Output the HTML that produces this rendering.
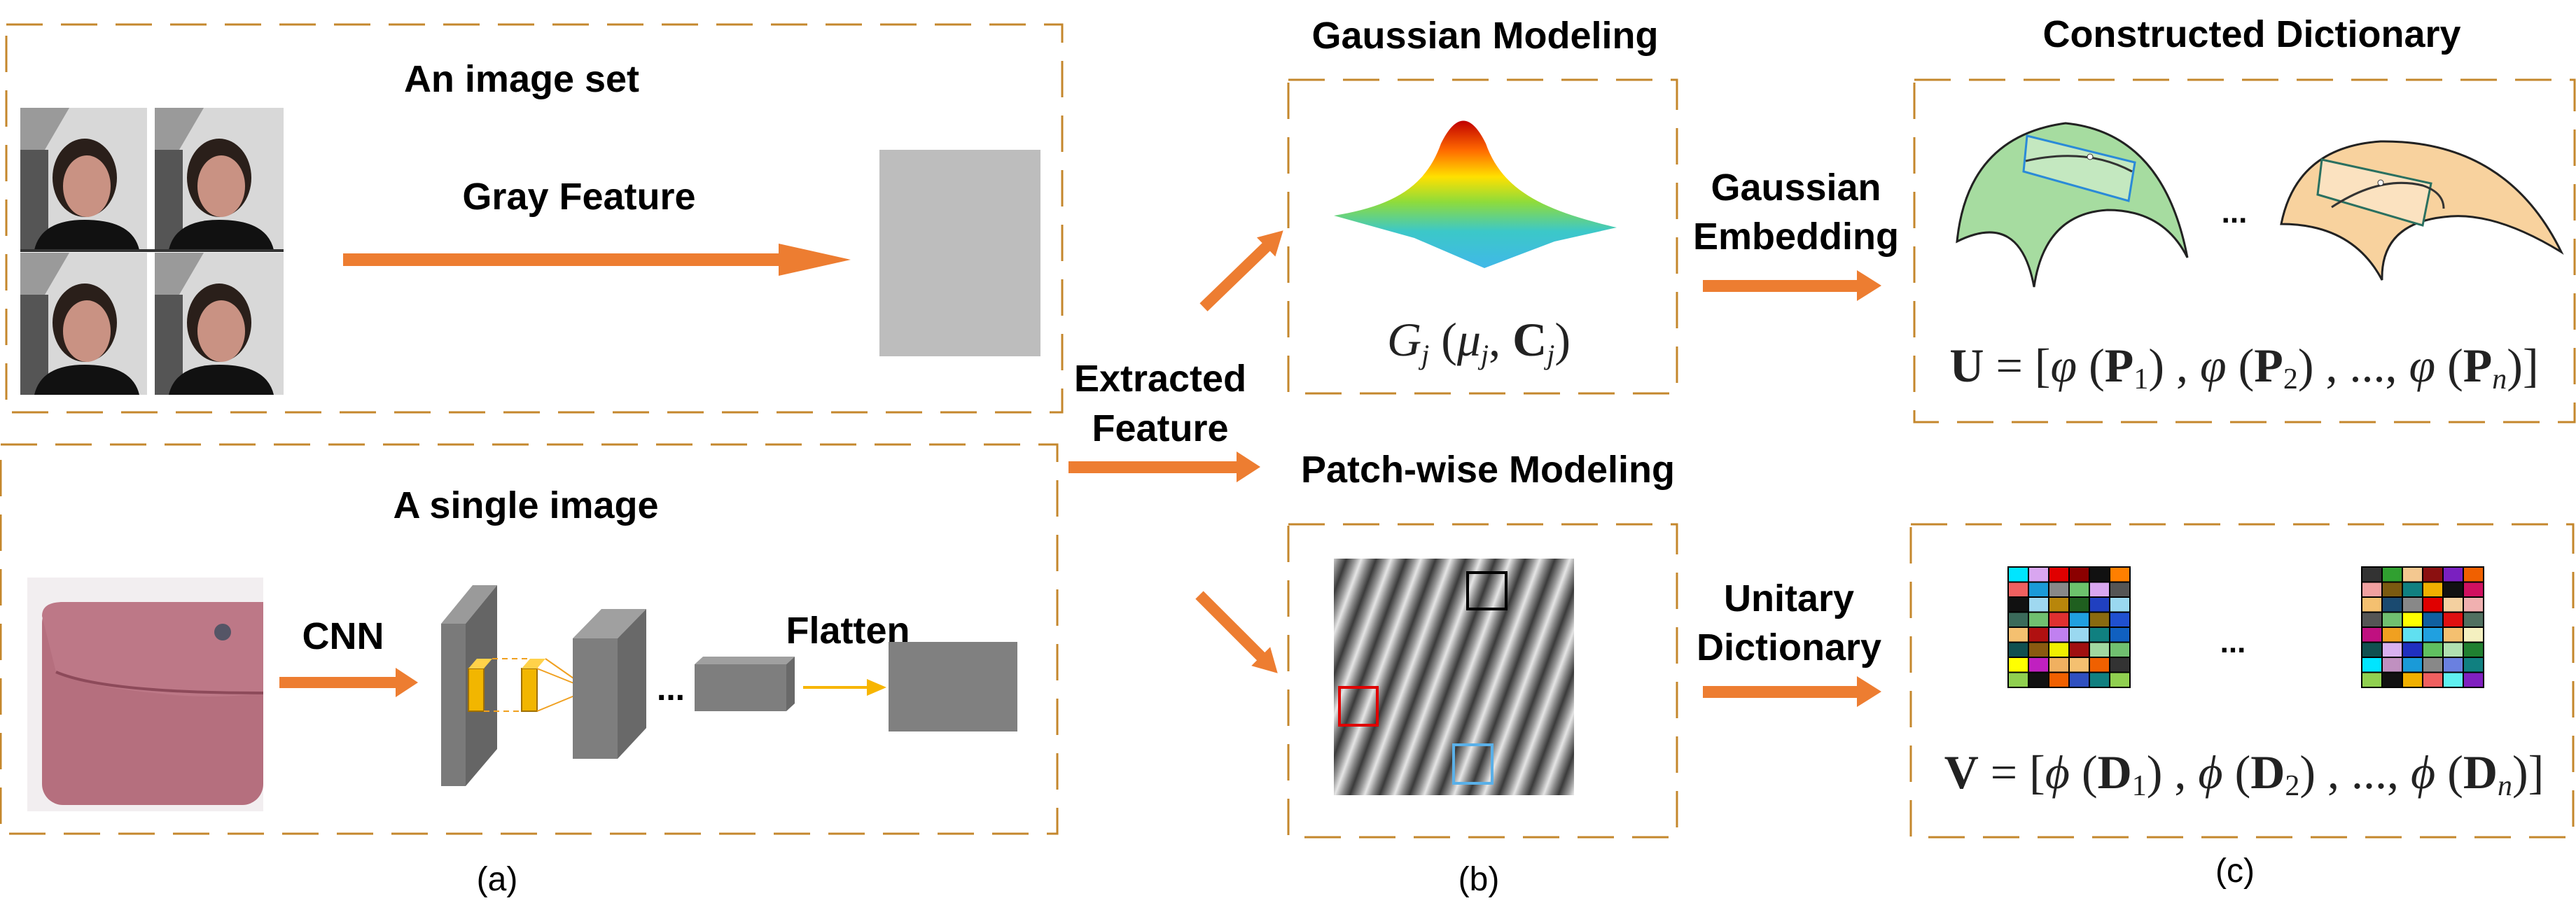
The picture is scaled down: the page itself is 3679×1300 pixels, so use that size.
<!DOCTYPE html>
<html><head><meta charset="utf-8"><style>
html,body{margin:0;padding:0;background:#fff;}
svg{display:block;}
.t{font-family:"Liberation Sans",sans-serif;font-weight:bold;font-size:54px;fill:#000;text-anchor:middle;}
.f{font-family:"Liberation Serif",serif;font-size:68px;fill:#222;text-anchor:middle;}
.c{font-family:"Liberation Sans","Noto Sans CJK SC",sans-serif;font-size:48px;fill:#000;text-anchor:middle;}
.box{fill:none;stroke:#c4872c;stroke-width:3;stroke-dasharray:52 26;}
</style></head><body>
<svg width="3679" height="1300" viewBox="0 0 3679 1300" xmlns="http://www.w3.org/2000/svg">
<defs>
<linearGradient id="gg" x1="0" y1="0" x2="0" y2="1">
<stop offset="0" stop-color="#c00000"/><stop offset="0.2" stop-color="#ff6a00"/><stop offset="0.38" stop-color="#ffe000"/><stop offset="0.55" stop-color="#8fdc3a"/><stop offset="0.75" stop-color="#3cc8c8"/><stop offset="1" stop-color="#40b8e8"/>
</linearGradient>
<linearGradient id="sg" x1="0" y1="0" x2="1" y2="0">
<stop offset="0" stop-color="#3a3a3a"/><stop offset="0.3" stop-color="#9a9a9a"/><stop offset="0.5" stop-color="#e6e6e6"/><stop offset="0.75" stop-color="#8a8a8a"/><stop offset="1" stop-color="#3a3a3a"/>
</linearGradient>
<pattern id="stripes" width="40" height="60" patternUnits="userSpaceOnUse" patternTransform="rotate(20)">
<rect width="40" height="60" fill="url(#sg)"/>
</pattern>
<g id="face">
<rect width="184" height="203" fill="#d8d8d8"/>
<polygon points="0,0 70,0 0,120" fill="#9a9a9a"/>
<rect x="0" y="60" width="40" height="143" fill="#555"/>
<ellipse cx="92" cy="100" rx="46" ry="56" fill="#2a1f1a"/>
<ellipse cx="95" cy="112" rx="34" ry="44" fill="#c99283"/>
<path d="M20,203 Q30,160 92,160 Q160,160 170,203 Z" fill="#111"/>
</g>
</defs>

<rect class="box" x="9" y="35" width="1508" height="554"/>
<rect class="box" x="1" y="635" width="1509" height="556"/>
<rect class="box" x="1840" y="114" width="555" height="448"/>
<rect class="box" x="2734" y="114" width="943" height="489"/>
<rect class="box" x="1840" y="749" width="555" height="447"/>
<rect class="box" x="2729" y="749" width="946" height="447"/>

<text class="t" x="745" y="131">An image set</text>
<text class="t" x="827" y="299">Gray Feature</text>
<text class="t" x="751" y="740">A single image</text>
<text class="t" x="490" y="927">CNN</text>
<text class="t" x="1211" y="919">Flatten</text>
<text class="t" x="1657" y="559">Extracted</text>
<text class="t" x="1657" y="630">Feature</text>
<text class="t" x="2121" y="69">Gaussian Modeling</text>
<text class="t" x="3216" y="67">Constructed Dictionary</text>
<text class="t" x="2565" y="286">Gaussian</text>
<text class="t" x="2565" y="356">Embedding</text>
<text class="t" x="2125" y="689">Patch-wise Modeling</text>
<text class="t" x="2555" y="873">Unitary</text>
<text class="t" x="2555" y="943">Dictionary</text>
<text class="c" x="710" y="1272">(a)</text>
<text class="c" x="2112" y="1272">(b)</text>
<text class="c" x="3192" y="1260">(c)</text>

<use href="#face" x="29" y="154"/>
<use href="#face" x="221" y="154"/>
<use href="#face" x="29" y="361"/>
<use href="#face" x="221" y="361"/>
<line x1="213" y1="154" x2="213" y2="565" stroke="#fff" stroke-width="6"/>
<line x1="29" y1="358" x2="405" y2="358" stroke="#333" stroke-width="4"/>

<rect x="490" y="362" width="630" height="18" fill="#ed7d31"/>
<polygon points="1112,348 1215,371 1112,394" fill="#ed7d31"/>
<rect x="1256" y="214" width="230" height="295" fill="#bdbdbd"/>

<rect x="39" y="825" width="337" height="334" fill="#f2eef0"/>
<rect x="60" y="860" width="316" height="290" rx="30" fill="#b56f7e"/>
<path d="M60,880 Q60,860 90,860 L376,860 L376,990 Q300,1000 220,990 Q120,980 80,960 Z" fill="#bd7887"/>
<path d="M80,960 Q150,990 376,990" stroke="#8d4a5a" stroke-width="4" fill="none"/>
<circle cx="318" cy="903" r="12" fill="#556"/>

<rect x="399" y="967" width="170" height="16" fill="#ed7d31"/>
<polygon points="565,954 597,975 565,996" fill="#ed7d31"/>

<polygon points="630,891 665,891 665,1123 630,1123" fill="#7a7a7a"/>
<polygon points="630,891 675,836 710,836 665,891" fill="#9a9a9a"/>
<polygon points="665,891 710,836 710,1070 665,1123" fill="#656565"/>
<rect x="669" y="955" width="22" height="61" fill="#f2b600" stroke="#a07000" stroke-width="2"/>
<polygon points="669,955 681,941 703,941 691,955" fill="#ffd24a"/>
<rect x="745" y="955" width="22" height="61" fill="#f2b600" stroke="#a07000" stroke-width="2"/>
<polygon points="745,955 757,941 779,941 767,955" fill="#ffd24a"/>
<g stroke="#f0a020" stroke-width="2" fill="none">
<line x1="703" y1="941" x2="757" y2="941" stroke-dasharray="8 6"/>
<line x1="691" y1="1016" x2="745" y2="1016" stroke-dasharray="8 6"/>
<line x1="767" y1="955" x2="842" y2="985"/><line x1="779" y1="941" x2="842" y2="985"/><line x1="767" y1="1016" x2="842" y2="985"/>
</g>
<polygon points="818,912 882,912 882,1084 818,1084" fill="#7e7e7e"/>
<polygon points="818,912 859,870 923,870 882,912" fill="#a0a0a0"/>
<polygon points="882,912 923,870 923,1040 882,1084" fill="#696969"/>
<text class="t" x="958" y="1000" style="font-size:48px">...</text>
<rect x="992" y="949" width="131" height="67" fill="#7e7e7e"/>
<polygon points="992,949 1004,938 1135,938 1123,949" fill="#a0a0a0"/>
<polygon points="1123,949 1135,938 1135,1005 1123,1016" fill="#696969"/>
<rect x="1147" y="980" width="95" height="4" fill="#f7b500"/>
<polygon points="1238,970 1266,982 1238,994" fill="#f7b500"/>
<rect x="1269" y="917" width="184" height="128" fill="#808080"/>

<rect x="1526" y="659" width="250" height="17" fill="#ed7d31"/>
<polygon points="1766,645 1800,667 1766,689" fill="#ed7d31"/>
<g transform="translate(1719,439) rotate(-44)">
<rect x="0" y="-8" width="128" height="16" fill="#ed7d31"/><polygon points="124,-19 158,0 124,19" fill="#ed7d31"/>
</g>
<g transform="translate(1713,850) rotate(45)">
<rect x="0" y="-8" width="128" height="16" fill="#ed7d31"/><polygon points="124,-19 158,0 124,19" fill="#ed7d31"/>
</g>

<path d="M1905,308 C1985,295 2035,270 2058,205 Q2090,140 2122,205 C2145,270 2200,300 2309,325 L2220,345 L2120,383 L2020,340 Z" fill="url(#gg)"/>
<text class="f" x="2112" y="508" style="font-style:italic">G<tspan font-size="40" dy="12">j</tspan><tspan dy="-12" font-style="normal"> (</tspan>μ<tspan font-size="40" dy="12">j</tspan><tspan dy="-12" font-style="normal">, </tspan><tspan font-weight="bold" font-style="normal">C</tspan><tspan font-size="40" dy="12">j</tspan><tspan dy="-12" font-style="normal">)</tspan></text>

<rect x="2432" y="400" width="225" height="17" fill="#ed7d31"/>
<polygon points="2652,386 2687,408 2652,430" fill="#ed7d31"/>
<rect x="2432" y="980" width="225" height="17" fill="#ed7d31"/>
<polygon points="2652,966 2687,988 2652,1010" fill="#ed7d31"/>

<path d="M2795,345 Q2810,195 2950,176 Q3090,190 3124,368 Q3090,300 3010,300 Q2920,305 2905,410 Q2885,300 2795,345 Z" fill="#a6dca0" stroke="#222" stroke-width="3"/>
<polygon points="2895,194 3049,232 3040,287 2890,245" fill="#c4e8c0" stroke="#2a8ad8" stroke-width="3"/>
<path d="M2893,230 Q2980,210 3045,245" stroke="#333" stroke-width="3" fill="none"/>
<circle cx="2985" cy="224" r="4" fill="#fff" stroke="#333"/>
<text class="t" x="3191" y="318" style="font-size:44px">...</text>
<path d="M3258,320 Q3280,210 3400,202 Q3580,200 3658,360 Q3560,300 3490,310 Q3400,320 3402,400 Q3360,320 3258,320 Z" fill="#f8d29e" stroke="#222" stroke-width="3"/>
<polygon points="3316,228 3472,262 3460,322 3310,278" fill="#fbe2c0" stroke="#2a7060" stroke-width="3"/>
<path d="M3330,296 Q3400,250 3460,265 Q3490,275 3490,298" stroke="#333" stroke-width="3" fill="none"/>
<circle cx="3400" cy="261" r="4" fill="#fff" stroke="#333"/>

<text class="f" x="3205" y="545"><tspan font-weight="bold">U</tspan> = [<tspan font-style="italic">φ</tspan> (<tspan font-weight="bold">P</tspan><tspan font-size="42" dy="10">1</tspan><tspan dy="-10">) , </tspan><tspan font-style="italic">φ</tspan> (<tspan font-weight="bold">P</tspan><tspan font-size="42" dy="10">2</tspan><tspan dy="-10">) , ..., </tspan><tspan font-style="italic">φ</tspan> (<tspan font-weight="bold">P</tspan><tspan font-size="42" dy="10" font-style="italic">n</tspan><tspan dy="-10">)]</tspan></text>
<text class="f" x="3205" y="1126"><tspan font-weight="bold">V</tspan> = [<tspan font-style="italic">ϕ</tspan> (<tspan font-weight="bold">D</tspan><tspan font-size="42" dy="10">1</tspan><tspan dy="-10">) , </tspan><tspan font-style="italic">ϕ</tspan> (<tspan font-weight="bold">D</tspan><tspan font-size="42" dy="10">2</tspan><tspan dy="-10">) , ..., </tspan><tspan font-style="italic">ϕ</tspan> (<tspan font-weight="bold">D</tspan><tspan font-size="42" dy="10" font-style="italic">n</tspan><tspan dy="-10">)]</tspan></text>

<rect x="1905" y="798" width="343" height="338" fill="url(#stripes)"/>
<rect x="2096" y="818" width="55" height="52" fill="none" stroke="#000" stroke-width="4"/>
<rect x="1913" y="982" width="54" height="54" fill="none" stroke="#e00000" stroke-width="4"/>
<rect x="2076" y="1064" width="55" height="55" fill="none" stroke="#5ab0e8" stroke-width="4"/>

<g stroke="#000" stroke-width="2">
<g transform="translate(2868,810)">
<rect x="0" y="0" width="29" height="21.5" fill="#00e5ff"/><rect x="29" y="0" width="29" height="21.5" fill="#d9a6f0"/><rect x="58" y="0" width="29" height="21.5" fill="#e00000"/><rect x="87" y="0" width="29" height="21.5" fill="#8b0000"/><rect x="116" y="0" width="29" height="21.5" fill="#111"/><rect x="145" y="0" width="29" height="21.5" fill="#ff7f00"/>
<rect x="0" y="21.5" width="29" height="21.5" fill="#f06060"/><rect x="29" y="21.5" width="29" height="21.5" fill="#1a9ad8"/><rect x="58" y="21.5" width="29" height="21.5" fill="#888"/><rect x="87" y="21.5" width="29" height="21.5" fill="#6cc26c"/><rect x="116" y="21.5" width="29" height="21.5" fill="#d9a6f0"/><rect x="145" y="21.5" width="29" height="21.5" fill="#555"/>
<rect x="0" y="43" width="29" height="21.5" fill="#111"/><rect x="29" y="43" width="29" height="21.5" fill="#9fd8f0"/><rect x="58" y="43" width="29" height="21.5" fill="#b8860b"/><rect x="87" y="43" width="29" height="21.5" fill="#1f5f1f"/><rect x="116" y="43" width="29" height="21.5" fill="#2040c0"/><rect x="145" y="43" width="29" height="21.5" fill="#9ad8f0"/>
<rect x="0" y="64.5" width="29" height="21.5" fill="#3a6a5a"/><rect x="29" y="64.5" width="29" height="21.5" fill="#70c070"/><rect x="58" y="64.5" width="29" height="21.5" fill="#e03030"/><rect x="87" y="64.5" width="29" height="21.5" fill="#20a0e0"/><rect x="116" y="64.5" width="29" height="21.5" fill="#8a6a10"/><rect x="145" y="64.5" width="29" height="21.5" fill="#2050d0"/>
<rect x="0" y="86" width="29" height="21.5" fill="#f4c070"/><rect x="29" y="86" width="29" height="21.5" fill="#b01010"/><rect x="58" y="86" width="29" height="21.5" fill="#c080f0"/><rect x="87" y="86" width="29" height="21.5" fill="#9ad8f0"/><rect x="116" y="86" width="29" height="21.5" fill="#108080"/><rect x="145" y="86" width="29" height="21.5" fill="#1060c0"/>
<rect x="0" y="107.5" width="29" height="21.5" fill="#105050"/><rect x="29" y="107.5" width="29" height="21.5" fill="#8a5a10"/><rect x="58" y="107.5" width="29" height="21.5" fill="#f0f000"/><rect x="87" y="107.5" width="29" height="21.5" fill="#a01010"/><rect x="116" y="107.5" width="29" height="21.5" fill="#a0d8a0"/><rect x="145" y="107.5" width="29" height="21.5" fill="#70c070"/>
<rect x="0" y="129" width="29" height="21.5" fill="#ffff00"/><rect x="29" y="129" width="29" height="21.5" fill="#c020c0"/><rect x="58" y="129" width="29" height="21.5" fill="#f0b060"/><rect x="87" y="129" width="29" height="21.5" fill="#f4c070"/><rect x="116" y="129" width="29" height="21.5" fill="#f06000"/><rect x="145" y="129" width="29" height="21.5" fill="#333"/>
<rect x="0" y="150.5" width="29" height="21.5" fill="#90d050"/><rect x="29" y="150.5" width="29" height="21.5" fill="#111"/><rect x="58" y="150.5" width="29" height="21.5" fill="#f06000"/><rect x="87" y="150.5" width="29" height="21.5" fill="#3050c0"/><rect x="116" y="150.5" width="29" height="21.5" fill="#108080"/><rect x="145" y="150.5" width="29" height="21.5" fill="#90d050"/>
</g>
<g transform="translate(3373,810)">
<rect x="0" y="0" width="29" height="21.5" fill="#333"/><rect x="29" y="0" width="29" height="21.5" fill="#30a030"/><rect x="58" y="0" width="29" height="21.5" fill="#f4c890"/><rect x="87" y="0" width="29" height="21.5" fill="#8b1010"/><rect x="116" y="0" width="29" height="21.5" fill="#7a20c0"/><rect x="145" y="0" width="29" height="21.5" fill="#f06000"/>
<rect x="0" y="21.5" width="29" height="21.5" fill="#f0a0a0"/><rect x="29" y="21.5" width="29" height="21.5" fill="#7a5a10"/><rect x="58" y="21.5" width="29" height="21.5" fill="#108080"/><rect x="87" y="21.5" width="29" height="21.5" fill="#f0b000"/><rect x="116" y="21.5" width="29" height="21.5" fill="#111"/><rect x="145" y="21.5" width="29" height="21.5" fill="#d01060"/>
<rect x="0" y="43" width="29" height="21.5" fill="#f4c070"/><rect x="29" y="43" width="29" height="21.5" fill="#1a4a70"/><rect x="58" y="43" width="29" height="21.5" fill="#888"/><rect x="87" y="43" width="29" height="21.5" fill="#e00000"/><rect x="116" y="43" width="29" height="21.5" fill="#f4d0a0"/><rect x="145" y="43" width="29" height="21.5" fill="#f0b0b0"/>
<rect x="0" y="64.5" width="29" height="21.5" fill="#555"/><rect x="29" y="64.5" width="29" height="21.5" fill="#70c070"/><rect x="58" y="64.5" width="29" height="21.5" fill="#ffff00"/><rect x="87" y="64.5" width="29" height="21.5" fill="#1060a0"/><rect x="116" y="64.5" width="29" height="21.5" fill="#e01010"/><rect x="145" y="64.5" width="29" height="21.5" fill="#507060"/>
<rect x="0" y="86" width="29" height="21.5" fill="#c01080"/><rect x="29" y="86" width="29" height="21.5" fill="#f0a020"/><rect x="58" y="86" width="29" height="21.5" fill="#60e0f0"/><rect x="87" y="86" width="29" height="21.5" fill="#20a0e0"/><rect x="116" y="86" width="29" height="21.5" fill="#f4c070"/><rect x="145" y="86" width="29" height="21.5" fill="#f4f0c0"/>
<rect x="0" y="107.5" width="29" height="21.5" fill="#105050"/><rect x="29" y="107.5" width="29" height="21.5" fill="#d8b0f0"/><rect x="58" y="107.5" width="29" height="21.5" fill="#2030c0"/><rect x="87" y="107.5" width="29" height="21.5" fill="#60c060"/><rect x="116" y="107.5" width="29" height="21.5" fill="#b0e0b0"/><rect x="145" y="107.5" width="29" height="21.5" fill="#208030"/>
<rect x="0" y="129" width="29" height="21.5" fill="#00e5ff"/><rect x="29" y="129" width="29" height="21.5" fill="#c090c0"/><rect x="58" y="129" width="29" height="21.5" fill="#1a9ad8"/><rect x="87" y="129" width="29" height="21.5" fill="#888"/><rect x="116" y="129" width="29" height="21.5" fill="#6a80e0"/><rect x="145" y="129" width="29" height="21.5" fill="#108080"/>
<rect x="0" y="150.5" width="29" height="21.5" fill="#90d050"/><rect x="29" y="150.5" width="29" height="21.5" fill="#111"/><rect x="58" y="150.5" width="29" height="21.5" fill="#f0b000"/><rect x="87" y="150.5" width="29" height="21.5" fill="#f06060"/><rect x="116" y="150.5" width="29" height="21.5" fill="#60f0f0"/><rect x="145" y="150.5" width="29" height="21.5" fill="#8020c0"/>
</g>
</g>
<text class="t" x="3189" y="932" style="font-size:44px">...</text>
</svg>
</body></html>
